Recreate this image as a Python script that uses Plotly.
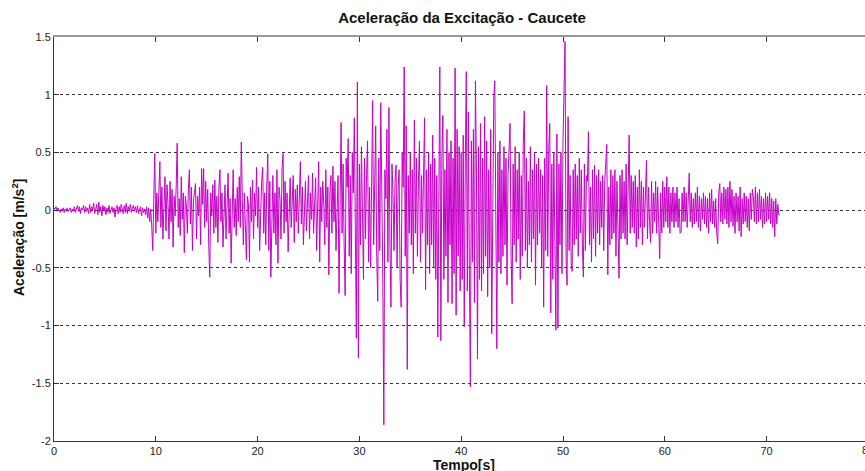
import numpy as np
import plotly.graph_objects as go

# sampling interval of the digitised record [s]
dt = 0.1

# acceleration [m/s^2], one list per 10 s block
acc_00_10 = [
    0.02, 0.01, 0.03, -0.01, 0.02, 0.00, -0.02, 0.01, -0.01, 0.02,
    -0.02, 0.01, -0.01, 0.02, -0.01, 0.00, 0.02, -0.02, 0.01, -0.01,
    0.03, -0.02, 0.02, 0.04, -0.01, 0.03, -0.03, 0.02, 0.00, 0.04,
    -0.02, 0.03, -0.01, 0.02, -0.03, 0.05, -0.02, 0.03, 0.00, 0.06,
    -0.03, 0.02, 0.05, -0.04, 0.07, -0.02, 0.03, -0.05, 0.04, -0.01,
    0.03, -0.04, 0.02, -0.02, 0.04, -0.03, 0.01, 0.03, -0.02, 0.02,
    -0.06, 0.02, 0.04, -0.03, 0.03, -0.02, 0.05, 0.00, -0.03, 0.04,
    -0.02, 0.06, -0.03, 0.03, -0.01, 0.05, -0.02, 0.02, 0.04, -0.01,
    0.03, -0.02, 0.04, -0.03, 0.01, 0.03, -0.05, 0.02, -0.02, 0.01,
    -0.04, 0.03, -0.07, 0.02, -0.10, 0.01, -0.14, -0.35, 0.10, 0.49,
]
acc_10_20 = [
    -0.20, 0.15, -0.10, 0.30, 0.42, -0.15, 0.20, -0.25, 0.10, 0.29,
    -0.18, 0.22, 0.05, -0.25, 0.25, -0.10, 0.18, -0.32, 0.12, -0.05,
    0.20, 0.58, -0.15, 0.10, -0.22, 0.29, -0.08, 0.15, -0.37, 0.12,
    0.05, -0.20, 0.18, 0.35, -0.12, 0.20, -0.35, 0.08, 0.15, 0.23,
    -0.25, 0.12, -0.05, 0.20, -0.30, 0.36, 0.05, 0.36, -0.15, 0.25,
    -0.10, 0.18, -0.30, -0.58, 0.15, -0.05, 0.22, -0.20, 0.26, -0.15,
    0.12, -0.28, 0.20, 0.35, -0.10, 0.15, -0.32, 0.08, 0.22, -0.25,
    0.05, 0.32, -0.20, 0.10, -0.46, 0.18, 0.35, -0.15, 0.10, -0.22,
    0.20, -0.10, 0.29, -0.15, 0.59, 0.10, -0.30, 0.15, -0.20, -0.43,
    0.12, 0.05, -0.45, 0.20, -0.10, 0.26, -0.25, 0.15, -0.05, 0.37,
]
acc_20_30 = [
    -0.15, 0.20, -0.35, 0.10, 0.25, 0.37, -0.20, 0.15, -0.30, 0.20,
    0.49, -0.35, 0.25, -0.58, 0.10, 0.30, -0.20, 0.15, -0.30, 0.35,
    -0.46, 0.20, 0.10, -0.25, 0.35, 0.49, -0.20, 0.25, -0.10, 0.15,
    -0.36, 0.10, 0.28, -0.15, 0.05, 0.30, -0.28, 0.18, -0.10, 0.22,
    -0.20, 0.15, 0.42, -0.12, 0.20, -0.30, 0.10, 0.25, -0.18, 0.05,
    0.30, -0.25, 0.15, -0.08, 0.32, -0.20, 0.10, 0.28, -0.35, 0.12,
    0.42, -0.45, 0.20, -0.10, 0.25, 0.05, -0.30, 0.35, -0.15, 0.20,
    -0.56, 0.15, 0.30, -0.20, 0.38, -0.10, 0.25, -0.35, 0.10, 0.30,
    -0.72, 0.35, 0.76, -0.20, 0.40, -0.30, -0.74, 0.45, 0.20, 0.62,
    -0.40, 0.30, -0.55, 0.50, 0.15, 0.80, -0.60, -1.11, 1.11, -1.28,
]
acc_30_40 = [
    0.40, -0.30, 0.55, 0.10, -0.60, 0.45, -0.25, 0.30, 0.60, -0.45,
    0.20, -0.50, 0.35, 0.95, -0.30, 0.20, 0.73, -0.40, -0.79, 0.45,
    -0.35, 0.93, 0.20, -0.60, -1.86, 0.35, 0.10, 0.70, -0.45, 0.89,
    -0.30, -0.84, 0.40, 0.15, -0.35, 0.25, 0.39, -0.50, 0.20, 0.35,
    -0.60, -0.84, 0.50, 0.20, 1.24, -0.40, 0.73, -1.38, 0.30, -0.20,
    0.50, -0.30, 0.35, -0.55, 0.78, -0.20, 0.45, -0.40, 0.25, 0.60,
    -0.45, 0.30, -0.20, 0.55, 0.80, -0.69, 0.35, -0.30, 0.50, -0.55,
    0.40, -0.30, 0.65, -0.50, 0.45, -0.60, 0.30, -1.10, 0.55, 1.24,
    -1.13, 0.45, 0.82, -0.60, 0.35, -0.40, 0.70, -0.80, 0.50, -0.30,
    0.60, -0.81, 0.45, -0.55, 1.23, -0.91, 0.70, -0.40, 0.55, -0.70,
]
acc_40_50 = [
    0.50, -0.60, 0.65, -1.01, 0.40, 1.20, -0.70, 0.85, -0.50, -1.53,
    0.60, -0.45, 0.70, -0.80, 1.12, 0.30, -1.29, 0.55, -0.60, 0.75,
    -0.70, 0.45, -0.55, 0.81, -0.40, 0.60, -0.75, 0.35, -0.50, 0.70,
    -1.07, 0.40, 0.98, 1.12, -0.60, -1.20, 0.50, -0.45, 0.60, -0.55,
    0.35, -0.40, 0.55, -0.30, 0.45, -0.65, 0.30, 0.50, 0.75, -0.40,
    -0.81, 0.40, -0.30, 0.55, -0.45, 0.35, -0.25, 0.50, -0.60, 0.30,
    -0.40, 0.60, 0.86, -0.35, 0.45, -0.50, 0.25, -0.30, 0.55, -0.45,
    0.35, -0.25, 0.50, -0.65, 0.40, -0.30, 0.45, -0.20, 0.35, -0.50,
    0.30, -0.84, 0.45, -0.35, 1.08, -0.40, 0.55, 0.75, -0.89, 0.40,
    -0.60, 0.50, -0.45, -1.04, 0.66, -1.02, 0.40, -0.30, 0.50, -0.55,
]
acc_50_60 = [
    0.60, 1.19, 1.46, -0.40, -0.65, 0.81, -0.35, 0.30, -0.45, -0.53,
    0.35, -0.30, 0.40, -0.25, 0.30, -0.40, 0.45, -0.20, 0.35, -0.30,
    -0.58, 0.40, -0.35, 0.30, 0.25, 0.68, -0.30, 0.20, -0.45, 0.35,
    -0.25, 0.39, -0.40, 0.30, -0.20, 0.35, -0.30, 0.25, -0.15, 0.30,
    -0.35, 0.25, 0.40, 0.57, -0.56, 0.20, -0.30, 0.35, -0.25, 0.30,
    -0.20, 0.35, -0.40, 0.25, -0.15, -0.59, 0.30, -0.25, 0.35, -0.20,
    0.25, -0.25, 0.40, -0.30, 0.20, 0.65, -0.20, 0.30, -0.15, 0.25,
    -0.20, 0.30, -0.32, 0.20, -0.25, 0.35, -0.15, 0.25, -0.30, 0.20,
    -0.15, 0.30, 0.43, -0.25, 0.20, -0.10, -0.28, 0.25, -0.20, 0.15,
    -0.10, 0.25, -0.20, 0.20, -0.25, -0.42, 0.15, -0.20, 0.25, -0.15,
]
acc_60_70 = [
    0.20, -0.10, 0.29, -0.15, 0.20, -0.20, 0.15, -0.10, 0.20, -0.15,
    0.15, -0.10, 0.20, -0.15, 0.10, -0.20, -0.19, 0.15, -0.10, 0.20,
    -0.10, 0.15, -0.15, 0.20, 0.32, -0.10, 0.15, -0.15, 0.10, -0.12,
    0.15, -0.10, 0.20, -0.15, 0.12, -0.18, 0.10, -0.08, 0.15, -0.12,
    0.12, -0.15, 0.10, -0.20, 0.15, -0.10, 0.18, -0.12, 0.08, -0.15,
    0.10, -0.20, -0.29, 0.15, 0.23, -0.10, 0.15, -0.12, 0.20, -0.08,
    0.18, -0.12, 0.20, -0.15, 0.25, -0.10, 0.18, -0.14, 0.12, -0.20,
    0.15, -0.10, 0.12, -0.18, 0.20, -0.23, 0.10, -0.12, 0.15, -0.10,
    0.12, -0.15, 0.10, -0.18, 0.15, -0.08, 0.18, 0.12, -0.10, 0.20,
    -0.12, 0.15, -0.10, 0.18, -0.08, 0.12, -0.15, 0.10, -0.12, 0.15,
]
acc_70_end = [
    -0.10, 0.12, -0.08, 0.15, -0.12, 0.10, -0.15, 0.08, -0.23, 0.10,
    -0.12, 0.05, -0.04, -0.04,
]

x_tick_vals = [0, 10, 20, 30, 40, 50, 60, 70]
y_tick_vals = [-2, -1.5, -1, -0.5, 0, 0.5, 1, 1.5]
y_tick_text = ["-2", "-1.5", "-1", "-0.5", "0", "0.5", "1", "1.5"]

acc = (acc_00_10 + acc_10_20 + acc_20_30 + acc_30_40 + acc_40_50
       + acc_50_60 + acc_60_70 + acc_70_end)
t = np.arange(len(acc)) * dt

FONT = "Liberation Sans, Arial, sans-serif"
W, H = 865, 471
ML, MR, MT, MB = 54, 0, 37, 30
px_per_s = 10.18
x_max = (W - ML - MR) / px_per_s

fig = go.Figure()
fig.add_trace(go.Scatter(
    x=t, y=acc, mode="lines",
    line=dict(color="rgb(200,0,200)", width=1),
    showlegend=False, hoverinfo="skip",
))
# dummy trace so the mirrored top axis is drawn
fig.add_trace(go.Scatter(
    x=[0], y=[0], xaxis="x2", mode="markers",
    marker=dict(opacity=0), showlegend=False, hoverinfo="skip",
))

fig.update_layout(
    width=W, height=H,
    margin=dict(l=ML, r=MR, t=MT, b=MB),
    paper_bgcolor="white", plot_bgcolor="white",
    font=dict(family=FONT, color="#222"),
    title=dict(
        text="<b>Aceleração da Excitação - Caucete</b>",
        font=dict(size=15, color="#111", family=FONT),
        x=(462 - ML) / (W - ML - MR), xref="paper", xanchor="center",
        y=1 - 18 / H, yref="container", yanchor="middle",
    ),
    xaxis=dict(
        range=[0, x_max], tickvals=x_tick_vals,
        ticks="inside", ticklen=5, tickcolor="#333", tickwidth=1,
        showline=True, linecolor="#333", linewidth=1,
        showgrid=False, zeroline=False,
        tickfont=dict(size=11, color="#222", family=FONT),
    ),
    xaxis2=dict(
        overlaying="x", side="top", matches="x", anchor="y",
        range=[0, x_max], tickvals=x_tick_vals,
        ticks="inside", ticklen=5, tickcolor="#333", tickwidth=1,
        showticklabels=False, showline=True, linecolor="#999", linewidth=2,
        showgrid=False, zeroline=False,
    ),
    yaxis=dict(
        range=[-2, 1.5], tickvals=y_tick_vals, ticktext=y_tick_text,
        ticks="inside", ticklen=5, tickcolor="#333", tickwidth=1,
        showline=True, linecolor="#333", linewidth=1,
        showgrid=True, gridcolor="#333", gridwidth=1, griddash="3px,3px",
        zeroline=False,
        tickfont=dict(size=11, color="#222", family=FONT),
    ),
)

pw = W - ML - MR
ph = H - MT - MB
fig.add_annotation(
    text="<b>Tempo[s]</b>", showarrow=False,
    xref="paper", yref="paper",
    x=(464 - ML) / pw, y=-(465 - (H - MB)) / ph,
    xanchor="center", yanchor="middle",
    font=dict(size=14, color="#111", family=FONT),
)
fig.add_annotation(
    text="<b>Aceleração [m/s<sup>2</sup>]</b>", showarrow=False,
    xref="paper", yref="paper",
    x=-(ML - 18) / pw, y=((H - MB) - 237) / ph,
    xanchor="center", yanchor="middle", textangle=-90,
    font=dict(size=14, color="#111", family=FONT),
)
# partially visible "80" tick label at the right border
fig.add_annotation(
    text="80", showarrow=False,
    xref="paper", yref="paper",
    x=(80 * px_per_s) / pw, y=-(450 - (H - MB)) / ph,
    xanchor="center", yanchor="middle",
    font=dict(size=11, color="#222", family=FONT),
)

fig.write_html("out.html", config={"displayModeBar": False},
               post_script="document.body.style.margin='0';")
